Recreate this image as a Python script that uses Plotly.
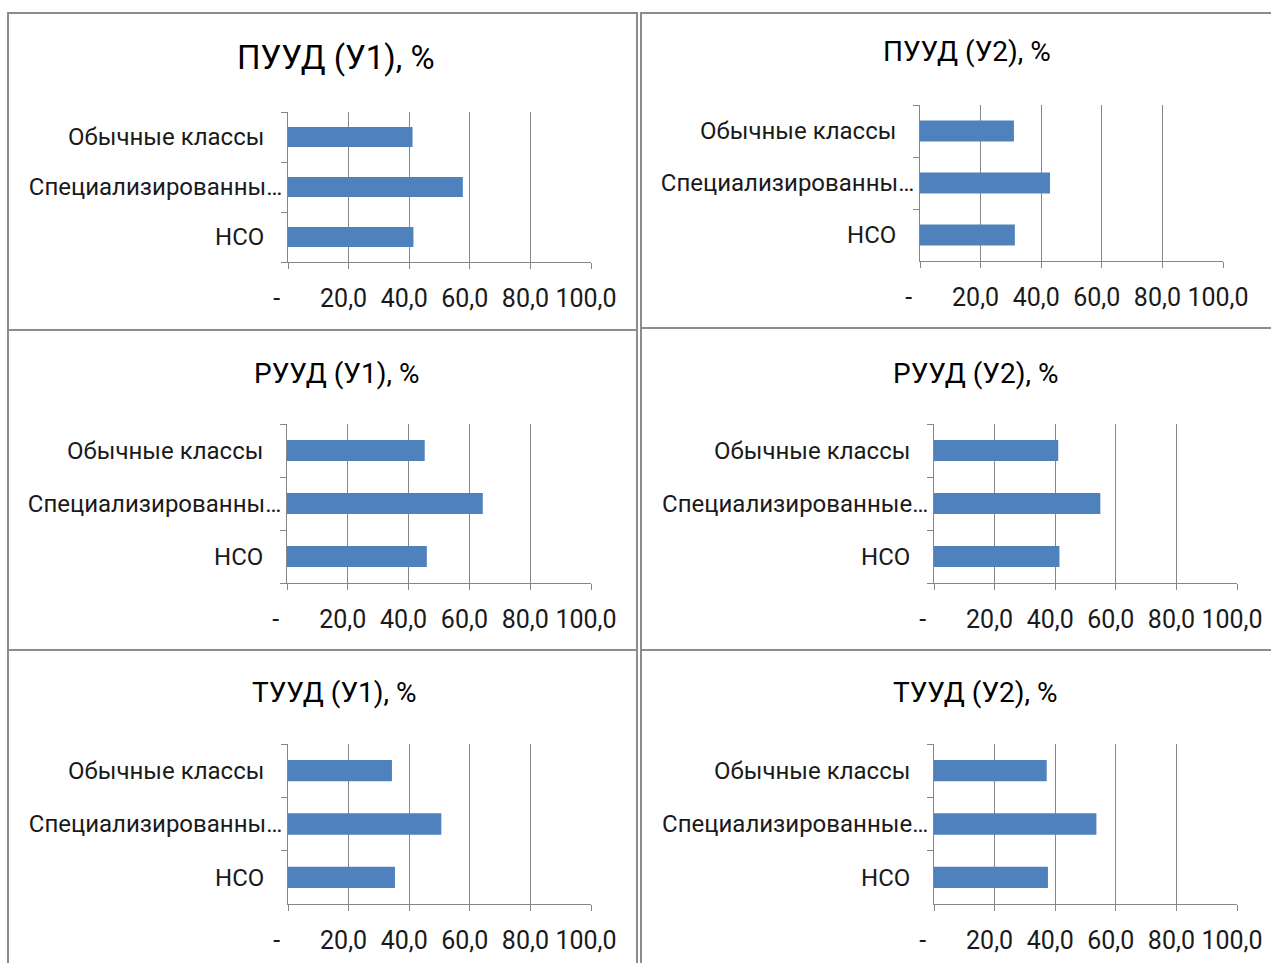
import plotly.graph_objects as go

# ---- data -------------------------------------------------------------
categories = ["Обычные классы", "Специализированные классы", "НСО"]
labels_narrow = ["Обычные классы", "Специализированны…", "НСО"]
labels_wide = ["Обычные классы", "Специализированные…", "НСО"]

puud_u1 = [41.1, 57.7, 41.4]
puud_u2 = [31.0, 42.9, 31.3]
ruud_u1 = [45.3, 64.4, 46.0]
ruud_u2 = [41.0, 54.9, 41.4]
tuud_u1 = [34.3, 50.6, 35.3]
tuud_u2 = [37.2, 53.6, 37.6]

titles = ["ПУУД (У1), %", "ПУУД (У2), %", "РУУД (У1), %",
          "РУУД (У2), %", "ТУУД (У1), %", "ТУУД (У2), %"]
series = [puud_u1, puud_u2, ruud_u1, ruud_u2, tuud_u1, tuud_u2]

x_ticks = [0, 20, 40, 60, 80, 100]
x_tick_labels = ["-\u00a0\u00a0", "20,0", "40,0", "60,0", "80,0", "100,0"]

# ---- page geometry (pixels) ------------------------------------------
W, H = 1271, 963
FONT = "Roboto, 'Noto Sans', sans-serif"
BAR = "#4F81BD"
GRID = "#868686"
BORDER = "#8c8c8c"

# frame box, plot area (x0, x1, y0, y1), title centre/size, label set
panels = [
    dict(box=(8, 13, 637, 330), plot=(288, 591, 112, 262), title=(336, 58, 33), lab=labels_narrow),
    dict(box=(641, 13, 1280, 328), plot=(920, 1223, 105, 261), title=(967, 52, 28), lab=labels_narrow),
    dict(box=(8, 330, 637, 650), plot=(287, 591, 424, 583), title=(336, 373, 28), lab=labels_narrow),
    dict(box=(641, 328, 1280, 650), plot=(934, 1237, 424, 583), title=(975, 373, 28), lab=labels_wide),
    dict(box=(8, 650, 637, 1000), plot=(288, 591, 744, 904), title=(334, 692, 28), lab=labels_narrow),
    dict(box=(641, 650, 1280, 1000), plot=(934, 1237, 744, 904), title=(975, 692, 28), lab=labels_wide),
]


def fx(px):
    return px / W


def fy(py):
    return 1 - py / H


fig = go.Figure()
layout = {}
shapes = []
annotations = []

for i, (p, vals, title) in enumerate(zip(panels, series, titles)):
    n = "" if i == 0 else str(i + 1)
    xa, ya = "x" + n, "y" + n

    fig.add_trace(go.Bar(
        x=vals, y=categories, orientation="h",
        marker=dict(color=BAR, line=dict(width=0)),
        xaxis=xa, yaxis=ya, showlegend=False,
        hovertemplate="%{y}: %{x:.1f}<extra></extra>",
    ))

    x0, x1, y0, y1 = p["plot"]
    # pad the shorter labels so their right edges sit like the truncated one
    ticktext = [p["lab"][0] + "\u00a0\u00a0\u00a0", p["lab"][1], p["lab"][2] + "\u00a0\u00a0\u00a0"]

    layout["xaxis" + n] = dict(
        domain=[fx(x0), fx(x1)], anchor=ya, range=[0, 100],
        tickvals=x_ticks, ticktext=x_tick_labels,
        showgrid=True, gridcolor=GRID, gridwidth=1,
        showline=True, linecolor=GRID, linewidth=1,
        ticks="outside", ticklen=6, tickcolor=GRID,
        tickfont=dict(family=FONT, size=25, color="#1a1a1a"),
        ticklabelstandoff=8, ticklabelshift=-5,
        zeroline=False, fixedrange=True, automargin=False,
    )
    layout["yaxis" + n] = dict(
        domain=[fy(y1), fy(y0)], anchor=xa, type="category",
        categoryorder="array", categoryarray=categories, autorange="reversed",
        tickvals=categories, ticktext=ticktext,
        tickson="boundaries", ticks="outside", ticklen=6, tickcolor=GRID,
        showline=True, linecolor=GRID, linewidth=1, showgrid=False,
        tickfont=dict(family=FONT, size=24, color="#1a1a1a"),
        ticklabelstandoff=0, fixedrange=True, automargin=False,
    )

    bx0, by0, bx1, by1 = p["box"]
    shapes.append(dict(
        type="rect", xref="paper", yref="paper",
        x0=fx(bx0), x1=fx(bx1), y0=fy(by1), y1=fy(by0),
        line=dict(color=BORDER, width=2), fillcolor="rgba(0,0,0,0)", layer="below",
    ))

    cx, cy, size = p["title"]
    annotations.append(dict(
        text=title, x=fx(cx), y=fy(cy), xref="paper", yref="paper",
        xanchor="center", yanchor="middle", showarrow=False,
        font=dict(family=FONT, size=size, color="#000000"),
    ))

fig.update_layout(
    width=W, height=H, autosize=False,
    margin=dict(l=0, r=0, t=0, b=0, pad=0),
    paper_bgcolor="white", plot_bgcolor="white",
    bargap=0.6,
    shapes=shapes, annotations=annotations,
    **layout,
)

fig.write_html("out.html")
